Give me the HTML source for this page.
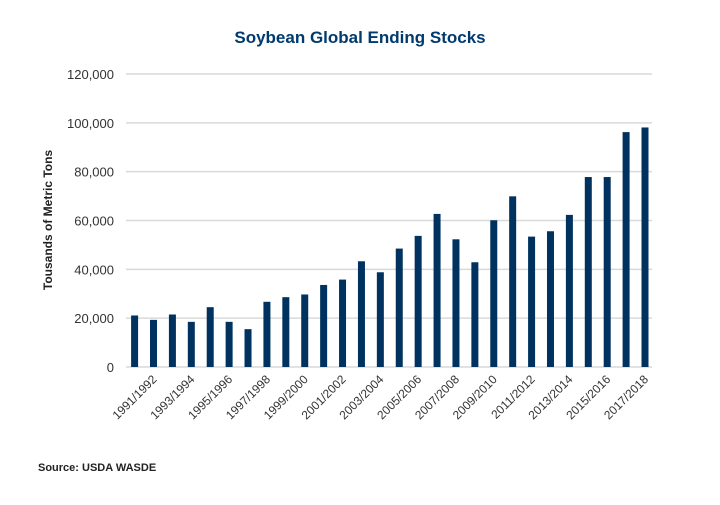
<!DOCTYPE html>
<html><head><meta charset="utf-8"><style>
body{margin:0;background:#fff;font-family:"Liberation Sans",sans-serif;}
</style></head><body>
<svg width="720" height="500" viewBox="0 0 720 500">
<text x="360" y="43" text-anchor="middle" font-size="17" font-weight="bold" fill="#003a6e">Soybean Global Ending Stocks</text>
<text transform="translate(52,220) rotate(-90)" text-anchor="middle" font-size="12" font-weight="bold" fill="#222">Tousands of Metric Tons</text>
<text x="38" y="471" font-size="11" font-weight="bold" fill="#222">Source: USDA WASDE</text>
<g id="grid"></g><g id="bars"></g><g id="xl"></g>
</svg>
<script>
const categories=["1990/1991","1991/1992","1992/1993","1993/1994","1994/1995","1995/1996","1996/1997","1997/1998","1998/1999","1999/2000","2000/2001","2001/2002","2002/2003","2003/2004","2004/2005","2005/2006","2006/2007","2007/2008","2008/2009","2009/2010","2010/2011","2011/2012","2012/2013","2013/2014","2014/2015","2015/2016","2016/2017","2017/2018"];
const values=[21100,19300,21500,18500,24500,18500,15500,26700,28600,29700,33600,35800,43300,38800,48500,53700,62700,52300,42900,60100,69900,53400,55600,62300,77800,77800,96200,98100];
const ticks=[0,20000,40000,60000,80000,100000,120000];
const tickLabels=["0","20,000","40,000","60,000","80,000","100,000","120,000"];
const NS="http://www.w3.org/2000/svg";
const y=v=>367-v*(293/120000);
const x=i=>134.6+i*((645-134.6)/(categories.length-1));
const grid=document.getElementById('grid'),bars=document.getElementById('bars'),xl=document.getElementById('xl');
ticks.forEach((t,i)=>{
 const l=document.createElementNS(NS,'line');
 
 
 l.setAttribute('x1',126);l.setAttribute('x2',652);l.setAttribute('y1',y(t));l.setAttribute('y2',y(t));
 l.setAttribute('stroke','#d9d9d9');l.setAttribute('stroke-width','1.5');grid.appendChild(l);
 const tx=document.createElementNS(NS,'text');
 
 
 tx.setAttribute('x',114);tx.setAttribute('y',y(t)+5);tx.setAttribute('text-anchor','end');
 tx.setAttribute('font-size','13');tx.setAttribute('fill','#333');tx.textContent=tickLabels[i];grid.appendChild(tx);
});
values.forEach((v,i)=>{
 const r=document.createElementNS(NS,'rect');
 
 
 r.setAttribute('x',x(i)-3.5);r.setAttribute('width',7);r.setAttribute('y',y(v));r.setAttribute('height',367-y(v));
 r.setAttribute('fill','#00325f');bars.appendChild(r);
 if(i%2===1){
  const t=document.createElementNS(NS,'text');
  
  
  t.setAttribute('transform','translate('+(x(i)+4)+',380) rotate(-45)');
  t.setAttribute('text-anchor','end');t.setAttribute('font-size','12');t.setAttribute('fill','#333');
  t.textContent=categories[i];xl.appendChild(t);
 }
});
</script>
</body></html>
